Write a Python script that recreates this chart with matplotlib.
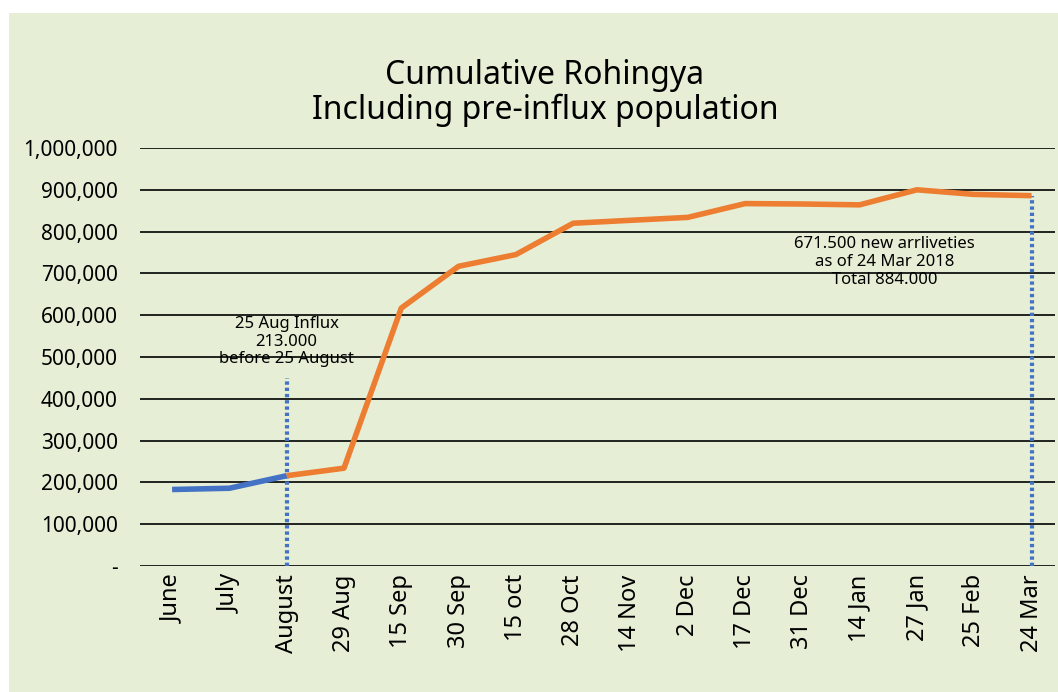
import matplotlib.pyplot as plt
from matplotlib.patches import Rectangle

# Datos
fechas = ["June", "July", "August", "29 Aug", "15 Sep", "30 Sep", "15 oct", "28 Oct",
          "14 Nov", "2 Dec", "17 Dec", "31 Dec", "14 Jan", "27 Jan", "25 Feb", "24 Mar"]
pre_influx = [183000, 186000, 216000]
post_influx = [216000, 234000, 617000, 717000, 745000, 820000, 827000, 834000,
               867000, 866000, 864000, 900000, 889000, 886000]
marca_influx = 450000
marca_total = 884000

plt.rcParams['font.family'] = ['Noto Sans', 'DejaVu Sans']
verde = "#e6efd5"

fig = plt.figure(figsize=(10.58, 6.92), dpi=100)
fig.patches.append(Rectangle((9 / 1058, 0), 1, 1 - 13 / 692, transform=fig.transFigure,
                             facecolor=verde, edgecolor="none", zorder=-10))
ax = fig.add_axes([140 / 1058, 126 / 692, 915 / 1058, 418 / 692])
ax.set_facecolor("none")

x_pre = list(range(len(pre_influx)))
x_post = list(range(2, 2 + len(post_influx)))
ax.plot(x_pre, pre_influx, color="#4472c4", lw=4, solid_capstyle="butt", zorder=3)
ax.plot(x_post, post_influx, color="#ed7d31", lw=4, solid_capstyle="butt", zorder=3)

# lineas punteadas verticales
ax.vlines([2], 0, marca_influx, colors="#4472c4", lw=3, linestyles=(0, (0.8, 0.7)), zorder=2)
ax.vlines([len(fechas) - 1], 0, marca_total, colors="#4472c4", lw=3,
          linestyles=(0, (0.8, 0.7)), zorder=2)

ax.set_xlim(-0.56, 15.41)
ax.set_ylim(0, 1000000)
ax.set_yticks(range(0, 1000001, 100000))
ax.set_yticklabels(["-"] + [f"{v:,}" for v in range(100000, 1000001, 100000)], fontsize=15)
ax.yaxis.grid(True, color="black", lw=1.2)
ax.set_axisbelow(True)
ax.set_xticks(range(len(fechas)))
ax.set_xticklabels(fechas, rotation=90, fontsize=17)
ax.tick_params(length=0, pad=16, axis="y")
ax.tick_params(length=0, pad=6, axis="x")
for s in ax.spines.values():
    s.set_visible(False)

ax.text(2, 537000, "25 Aug Influx\n213.000\nbefore 25 August", ha="center", va="center",
        fontsize=12, linespacing=1.15)
ax.text(12.43, 727000, "671.500 new arrliveties\nas of 24 Mar 2018\nTotal 884.000",
        ha="center", va="center", fontsize=12, linespacing=1.15)

fig.text(545 / 1058, 1 - 93 / 692, "Cumulative Rohingya\nIncluding pre-influx population",
         ha="center", va="center", fontsize=23, linespacing=1.05)

fig.savefig("out.png", dpi=100)
